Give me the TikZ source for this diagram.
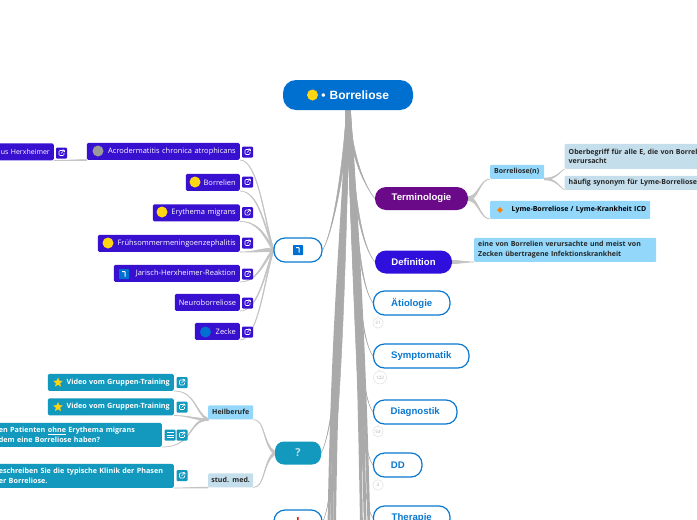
\documentclass[tikz,border=0pt]{standalone}
\usepackage{fontspec}
\setmainfont{Open Sans}
\newfontfamily\headfont{Liberation Sans}
\usetikzlibrary{shapes.geometric,backgrounds}
\definecolor{mmroot}{RGB}{0,112,208}
\definecolor{mmpurple}{RGB}{107,10,136}
\definecolor{mmindigo}{RGB}{46,15,220}
\definecolor{mmleaf}{RGB}{56,16,208}
\definecolor{mmteal}{RGB}{18,153,189}
\definecolor{mmsky}{RGB}{147,216,251}
\definecolor{mmpale}{RGB}{197,222,236}
\definecolor{mmoutline}{RGB}{10,120,208}
\definecolor{mmtrunk}{RGB}{170,170,170}
\definecolor{mmthin}{RGB}{196,196,196}
\definecolor{mmsun}{RGB}{255,214,20}
\newcommand{\vlink}[6][trunk]{\filldraw[#1] ([xshift=#6]#2) .. controls +(#4) and +(#5) .. (#3) .. controls +(#5) and +(#4) .. ([xshift=-#6]#2) -- cycle;}
\newcommand{\hlink}[6][thin link]{\filldraw[#1] ([yshift=#6]#2) .. controls +(#4) and +(#5) .. (#3) .. controls +(#5) and +(#4) .. ([yshift=-#6]#2) -- cycle;}
\begin{document}
\begin{tikzpicture}[
  x=1pt, y=-1pt,
  trunk/.style={fill=mmtrunk, draw=mmtrunk, line width=0.5pt},
  bundle/.style={trunk, line width=2.6pt},
  thin link/.style={fill=mmthin, draw=mmthin, line width=0.7pt},
  head/.style={rectangle, rounded corners=11pt, inner sep=0pt, minimum height=23pt, text=white, font=\headfont\bfseries\fontsize{9.6}{12}\selectfont},
  outlined/.style={head, fill=white, draw=mmoutline, line width=1.2pt, minimum height=24pt, text=mmoutline},
  leaf/.style={rectangle, rounded corners=1.5pt, fill=mmleaf, text=white, inner xsep=4pt, inner ysep=0pt, minimum height=17pt, align=right, font=\fontsize{7.5}{9}\selectfont},
  teal/.style={leaf, fill=mmteal, font=\bfseries\fontsize{7.2}{9.5}\selectfont},
  note/.style={rectangle, rounded corners=1pt, fill=mmsky, text=black!85, inner xsep=4pt, inner ysep=0pt, minimum height=14pt, align=left, font=\bfseries\fontsize{7}{9.5}\selectfont},
  btn/.style={rectangle, rounded corners=1pt, fill=mmleaf, minimum width=11pt, minimum height=11pt, inner sep=0pt,
    path picture={\draw[white, line width=0.6pt, shift={(path picture bounding box.center)}] (1,-2.5) -- (-2.5,-2.5) -- (-2.5,2.5) -- (2.5,2.5) -- (2.5,0) (-0.5,0.5) -- (3,-3) (0.8,-3) -- (3,-3) -- (3,-0.8);}},
  ball/.style={circle, fill=mmsun, minimum size=11pt, inner sep=0pt},
  count/.style={circle, draw=black!15, fill=white, text=black!35, inner sep=0pt, minimum size=10.5pt, font=\fontsize{4.5}{5}\selectfont},
  tile/.style={rectangle, rounded corners=0.5pt, fill=mmroot, minimum size=10pt, inner sep=0pt,
    path picture={\draw[white, line width=1pt, shift={(path picture bounding box.center)}] (-2,-2.5) -- (1,-2.5) -- (1,2.5);}},
  star5/.style={star, star points=5, star point ratio=2.2, fill=mmsun!95!orange, minimum size=10pt, inner sep=0pt}
]
\useasboundingbox (0,0) rectangle (697,520);
\clip (0,0) rectangle (697,520);

% Root and main branches
\node[head, fill=mmroot, minimum width=130pt, minimum height=30pt, rounded corners=13pt, inner xsep=24pt, text width=82pt, align=right, font=\headfont\bfseries\fontsize{12}{14}\selectfont] (root) at (348,95) {• Borreliose};
\node[ball] (rootball) at (312.5,95) {};
\node[head, fill=mmpurple, minimum width=93pt] (term) at (421.5,198.5) {Terminologie};
\node[head, fill=mmindigo, minimum width=77pt] (defi) at (413.5,262) {Definition};
\node[outlined, minimum width=76.5pt] (aeti) at (411.75,303) {Ätiologie};
\node[outlined, minimum width=95.5pt] (symp) at (421.25,356) {Symptomatik};
\node[outlined, minimum width=83.5pt] (diag) at (415.25,412) {Diagnostik};
\node[outlined, minimum width=48.5pt] (dd) at (397.75,465) {DD};
\node[outlined, minimum width=76.5pt] (ther) at (411.75,518) {Therapie};
\node[outlined, minimum width=48pt] (refs) at (298,250) {};
\node[tile] (refsicon) at (298,250) {};
\node[head, fill=mmteal, minimum width=46pt, rounded corners=9pt, font=\bfseries\fontsize{11}{13}\selectfont, text=white!75!mmteal] (quest) at (298,453) {?};
\node[outlined, minimum width=48pt, font=\bfseries\fontsize{11}{13}\selectfont, text=red] (warn) at (298,522) {!};

% Child counters
\node[count] (caeti) at (378,323) {21};
\node[count, minimum size=13pt] (csymp) at (380,377.5) {122};
\node[count] (cdiag) at (378,431.5) {53};
\node[count] (cdd) at (378,485) {3};

% Right side notes
\node[note, text width=46pt, anchor=south west] (borr) at (490,179) {Borreliose(n)};
\node[note, text width=152pt, minimum height=18pt, align=right, text=black, anchor=south west] (lyme) at (490,219) {Lyme-Borreliose / Lyme-Krankheit ICD};
\node[diamond, fill=orange, minimum size=6pt, inner sep=0pt] (lymeicon) at (500,210) {};
\node[note, fill=mmpale, text width=170pt, minimum height=25pt, anchor=south west] (ober) at (564.5,169) {Oberbegriff für alle E, die von Borrelien\\verursacht};
\node[note, fill=mmpale, text width=170pt, anchor=south west] (haeu) at (564.5,190) {häufig synonym für Lyme-Borreliose};
\node[note, text width=174pt, minimum height=24pt, anchor=south west] (detx) at (474,262) {eine von Borrelien verursachte und meist von\\Zecken übertragene Infektionskrankheit};

% Reference leaves
\node[leaf, text width=145pt, anchor=south east] (acro) at (240,160) {Acrodermatitis chronica atrophicans};
\node[leaf, text width=46pt, anchor=south east] (borl) at (240,191) {Borrelien};
\node[leaf, text width=79pt, anchor=south east] (eryt) at (240,221.5) {Erythema migrans};
\node[leaf, text width=134pt, anchor=south east] (fsme) at (240,252) {Frühsommermeningoenzephalitis};
\node[leaf, text width=118pt, anchor=south east] (jari) at (240,282) {Jarisch-Herxheimer-Reaktion};
\node[leaf, text width=57pt, anchor=south east] (neur) at (240,311) {Neuroborreliose};
\node[leaf, text width=37pt, anchor=south east] (zeck) at (240,340) {Zecke};
\node[leaf, text width=62pt, font=\fontsize{7}{9}\selectfont, anchor=south east] (herx) at (54,160.5) {us Herxheimer};
\node[ball, fill=black!40] (iacro) at (98,151) {};
\node[ball] (iborl) at (195,182) {};
\node[ball] (ieryt) at (162,212) {};
\node[ball] (ifsme) at (108,243) {};
\node[tile] (ijari) at (124,274) {};
\node[ball, fill=mmroot] (izeck) at (205.5,332) {};
\node[btn] (bacro) at (247.5,152) {};
\node[btn] (bborl) at (247.5,182) {};
\node[btn] (beryt) at (247.5,212.5) {};
\node[btn] (bfsme) at (247.5,243) {};
\node[btn] (bjari) at (247.5,274) {};
\node[btn] (bneur) at (247.5,303) {};
\node[btn] (bzeck) at (247.5,332) {};
\node[btn] (bherx) at (61.5,153) {};

% Question leaves
\node[note, inner xsep=1pt, text width=43pt, align=center, anchor=south west] (heil) at (208,419.5) {Heilberufe};
\node[note, inner xsep=1pt, fill=mmpale, text width=43pt, align=center, anchor=south west] (stud) at (208,487.5) {stud. med.};
\node[teal, text width=118pt, anchor=south east] (vida) at (174,391) {Video vom Gruppen-Training};
\node[teal, text width=118pt, anchor=south east] (vidb) at (174,415.5) {Video vom Gruppen-Training};
\node[teal, text width=159pt, minimum height=24pt, align=left, anchor=south east] (qone) at (162,447) {en Patienten \underline{ohne} Erythema migrans\\dem eine Borreliose haben?};
\node[teal, text width=171pt, minimum height=24pt, align=left, anchor=south east] (qtwo) at (174,488) {eschreiben Sie die typische Klinik der Phasen\\er Borreliose.};
\node[star5] (svida) at (58,382.5) {};
\node[star5] (svidb) at (58,407) {};
\node[btn, fill=mmteal] (bvida) at (182,382.5) {};
\node[btn, fill=mmteal] (bvidb) at (182,407) {};
\node[btn, fill=mmteal] (bqone) at (182,435) {};
\node[btn, fill=mmteal, path picture={\draw[white, line width=1pt] ([shift={(2,3)}]path picture bounding box.north west) -- ++(7,0) ++(-7,2.5) -- ++(7,0) ++(-7,2.5) -- ++(7,0);}] (nqone) at (170,435) {};
\node[btn, fill=mmteal] (bqtwo) at (182,475.5) {};

\begin{scope}[on background layer]
% Bundle towards the branches below the page
\coordinate (offa) at (328,640);
\coordinate (offb) at (331,640);
\coordinate (offc) at (334,640);
\coordinate (offd) at (363,640);
\coordinate (offe) at (367,640);
\coordinate (offf) at (371,640);
\vlink[bundle]{root.south}{offa}{-2,100}{0,-300}{1.2}
\vlink[bundle]{root.south}{offb}{-2,100}{0,-300}{1.2}
\vlink[bundle]{root.south}{offc}{-2,100}{0,-300}{1.2}
\vlink[bundle]{root.south}{offd}{8,110}{-3,-250}{1.4}
\vlink[bundle]{root.south}{offe}{8,110}{-3,-250}{1.4}
\vlink[bundle]{root.south}{offf}{8,110}{-3,-250}{1.4}

% Main branches
\vlink{root.south}{term.west}{3,45}{-11,-14}{1.5}
\vlink{root.south}{defi.west}{5,100}{-11,-14}{1.5}
\vlink{root.south}{aeti.west}{7,130}{-11,-16}{1.4}
\vlink{root.south}{symp.west}{8,180}{-11,-16}{1.2}
\vlink{root.south}{diag.west}{9,230}{-11,-16}{1.2}
\vlink{root.south}{dd.west}{10,280}{-11,-16}{1.2}
\vlink{root.south}{ther.west}{12,330}{-11,-16}{1.2}
\vlink{root.south}{refs.east}{-5,70}{9,-15}{1.5}
\vlink{root.south}{quest.east}{-6,260}{10,-20}{1.2}
\vlink{root.south}{warn.east}{-6,300}{10,-20}{1.2}

% Child lines
\hlink{term.east}{borr.south west}{10,0}{-10,0}{2}
\hlink{term.east}{lyme.south west}{10,0}{-10,0}{2}
\hlink{borr.south east}{ober.south west}{12,0}{-4,2}{0.8}
\hlink{borr.south east}{haeu.south west}{12,0}{-4,-2}{0.8}
\hlink{defi.east}{detx.south west}{8,0}{-8,0}{1.6}
\hlink{refs.west}{acro.south east}{-9,-30}{18,0}{1.8}
\hlink{refs.west}{borl.south east}{-9,-25}{18,0}{1.8}
\hlink{refs.west}{eryt.south east}{-9,-15}{18,0}{1.8}
\hlink{refs.west}{fsme.south east}{-13,0}{15,0}{1.8}
\hlink{refs.west}{jari.south east}{-9,10}{18,0}{1.8}
\hlink{refs.west}{neur.south east}{-9,25}{18,0}{1.8}
\hlink{refs.west}{zeck.south east}{-9,30}{18,0}{1.8}
\hlink{acro.south west}{herx.south east}{-5,0}{5,0}{0.4}
\hlink{quest.west}{heil.south east}{-12,-8}{12,0}{1.6}
\hlink{quest.west}{stud.south east}{-12,8}{12,0}{1.6}
\hlink{heil.south west}{vida.south east}{-13,-6}{22,0}{1}
\hlink{heil.south west}{vidb.south east}{-13,0}{14,0}{1}
\hlink{heil.south west}{qone.south east}{-20,0}{32,0}{1}
\hlink{stud.south west}{qtwo.south east}{-10,0}{10,0}{0.4}
\draw[black!15, line width=0.5pt] (aeti.south west) ++(5,0) -- (caeti);
\draw[black!15, line width=0.5pt] (symp.south west) ++(6,0) -- (csymp);
\draw[black!15, line width=0.5pt] (diag.south west) ++(5,0) -- (cdiag);
\draw[black!15, line width=0.5pt] (dd.south west) ++(5,0) -- (cdd);
\end{scope}

\end{tikzpicture}
\end{document}
